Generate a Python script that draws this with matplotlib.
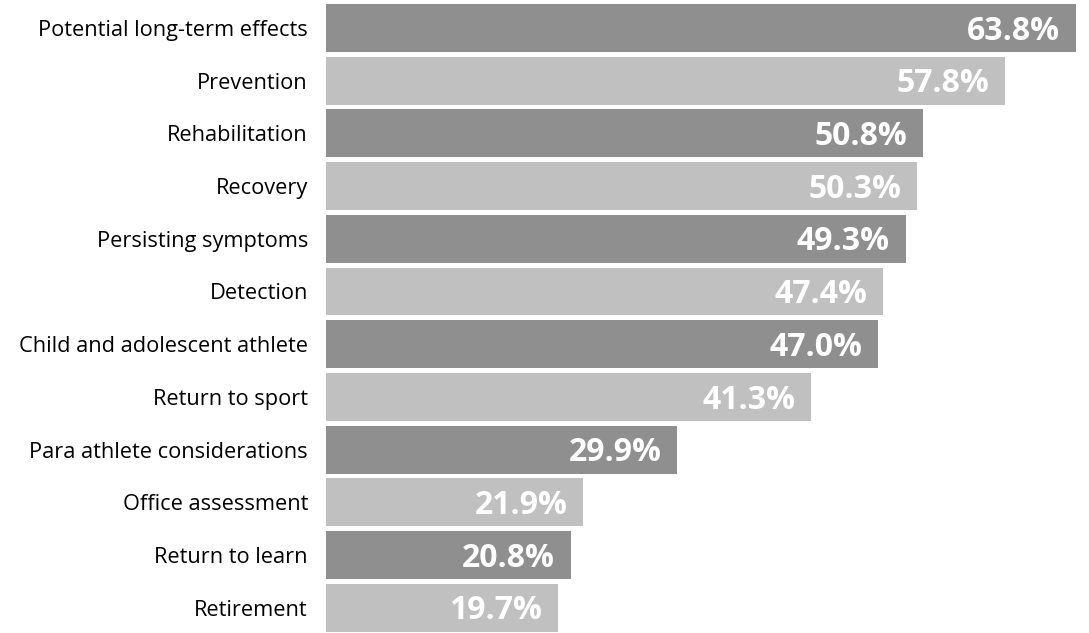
import numpy as np
import matplotlib.pyplot as plt

categories = ['Potential long-term effects', 'Prevention', 'Rehabilitation', 'Recovery',
              'Persisting symptoms', 'Detection', 'Child and adolescent athlete',
              'Return to sport', 'Para athlete considerations', 'Office assessment',
              'Return to learn', 'Retirement']
values = [63.8, 57.8, 50.8, 50.3, 49.3, 47.4, 47.0, 41.3, 29.9, 21.9, 20.8, 19.7]

dark = '#8f8f8f'
light = '#c0c0c0'

fig = plt.figure(figsize=(10.89, 6.33), dpi=100)
ax = fig.add_axes([326 / 1089, 0, 1 - 326 / 1089, 1])

y = np.arange(len(categories))
colors = [dark if i % 2 == 0 else light for i in range(len(categories))]
ax.barh(y, values, height=0.91, color=colors, edgecolor='none')

for yi, v in zip(y, values):
    ax.text(v - 1.35, yi + 0.06, '%.1f%%' % v, ha='right', va='center', color='white',
            fontsize=23, fontweight='bold', family='Open Sans')

ax.set_xlim(0, 763 / 11.755)
ax.set_ylim(11.48, -0.531)
ax.set_yticks(y)
ax.set_yticklabels(categories, fontsize=15.7, family='Open Sans')
ax.tick_params(axis='y', length=0, pad=13)
ax.set_xticks([])
for s in ax.spines.values():
    s.set_visible(False)

plt.savefig('out.png', dpi=100)
